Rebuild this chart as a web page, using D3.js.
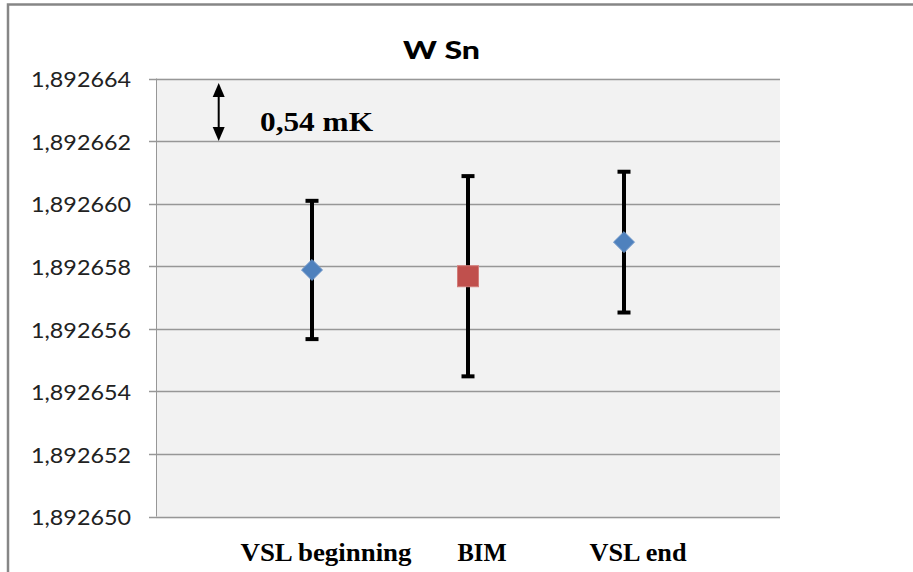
<!DOCTYPE html>
<html>
<head>
<meta charset="utf-8">
<script src="https://cdn.jsdelivr.net/npm/d3@7"></script>
<style>
  html, body { margin: 0; padding: 0; background: #fff; }
  svg { display: block; }
</style>
</head>
<body>
<svg id="chart" width="913" height="572"></svg>
<script>
// ---- data ----
const title = "W Sn";
const categories = ["VSL beginning", "BIM", "VSL end"];
const xPositions = [1, 2, 3];
const means = [1.89265788, 1.89265768, 1.89265877];
const errors = [0.00000221, 0.00000320, 0.00000225];
const seriesOf = ["VSL", "BIM", "VSL"];
const yTicks = [1.892650, 1.892652, 1.892654, 1.892656, 1.892658, 1.892660, 1.892662, 1.892664];
const annotationText = "0,54 mK";

// ---- layout ----
const svg = d3.select("#chart");
const plot = { left: 156, right: 780, top: 78.5, bottom: 516.5 };

const x = d3.scaleLinear().domain([0, 4]).range([plot.left, plot.right]);
const y = d3.scaleLinear().domain([1.892650, 1.892664]).range([plot.bottom, plot.top]);

const locale = d3.formatLocale({ decimal: ",", thousands: " ", grouping: [3], currency: ["", ""] });
const fmt = locale.format(".6f");

// chart border
svg.append("rect")
  .attr("x", 8).attr("y", 4.5).attr("width", 1000).attr("height", 1000)
  .attr("fill", "#fff").attr("stroke", "#868686").attr("stroke-width", 2.5);

// plot background
svg.append("rect")
  .attr("x", plot.left).attr("y", plot.top)
  .attr("width", plot.right - plot.left).attr("height", plot.bottom - plot.top + 2)
  .attr("fill", "#f2f2f2");

// gridlines
svg.append("g").selectAll("line").data(yTicks).join("line")
  .attr("x1", plot.left - 7).attr("x2", plot.right)
  .attr("y1", d => Math.round(y(d)) + 0.5).attr("y2", d => Math.round(y(d)) + 0.5)
  .attr("stroke", "#979797").attr("stroke-width", 1.3);

// y axis line
svg.append("line")
  .attr("x1", plot.left + 0.5).attr("x2", plot.left + 0.5)
  .attr("y1", plot.top).attr("y2", plot.bottom)
  .attr("stroke", "#979797").attr("stroke-width", 1);

// y tick labels
svg.append("g").selectAll("text").data(yTicks).join("text")
  .attr("x", 131).attr("y", d => y(d) + 8.8)
  .attr("text-anchor", "end")
  .attr("font-family", "Lato, 'Open Sans', sans-serif")
  .attr("font-size", 21)
  .attr("fill", "#222")
  .attr("textLength", 100).attr("lengthAdjust", "spacingAndGlyphs")
  .text(d => fmt(d));

// title
svg.append("text")
  .attr("x", 441.5).attr("y", 59.3)
  .attr("text-anchor", "middle")
  .attr("font-family", "Lato, 'Open Sans', sans-serif")
  .attr("font-weight", 900).attr("font-size", 25)
  .attr("fill", "#000")
  .attr("textLength", 77).attr("lengthAdjust", "spacingAndGlyphs")
  .text(title);

// x labels
const labelWidths = [171, 49, 97];
svg.append("g").selectAll("text").data(categories).join("text")
  .attr("x", (d, i) => x(xPositions[i]) + 14)
  .attr("y", 561)
  .attr("text-anchor", "middle")
  .attr("font-family", "'Liberation Serif', 'Times New Roman', serif")
  .attr("font-weight", "bold").attr("font-size", 25)
  .attr("fill", "#000")
  .attr("textLength", (d, i) => labelWidths[i]).attr("lengthAdjust", "spacingAndGlyphs")
  .text(d => d);

// error bars
const eb = svg.append("g");
means.forEach((m, i) => {
  const cx = x(xPositions[i]);
  const yTop = y(m + errors[i]), yBot = y(m - errors[i]);
  eb.append("line").attr("x1", cx).attr("x2", cx).attr("y1", yTop).attr("y2", yBot)
    .attr("stroke", "#000").attr("stroke-width", 4);
  [yTop, yBot].forEach(yy => {
    eb.append("line").attr("x1", cx - 6.5).attr("x2", cx + 6.5).attr("y1", yy).attr("y2", yy)
      .attr("stroke", "#000").attr("stroke-width", 4);
  });
});

// markers
const mk = svg.append("g");
means.forEach((m, i) => {
  const cx = x(xPositions[i]), cy = y(m);
  if (seriesOf[i] === "VSL") {
    mk.append("path")
      .attr("d", d3.symbol().type(d3.symbolDiamond2).size(280)())
      .attr("transform", `translate(${cx},${cy})`)
      .attr("fill", "#4f81bd").attr("stroke", "#6d96c9").attr("stroke-width", 1);
  } else {
    mk.append("rect")
      .attr("x", cx - 10.5).attr("y", cy - 10.5).attr("width", 21).attr("height", 21)
      .attr("fill", "#c0504d").attr("stroke", "#d27d7a").attr("stroke-width", 1);
  }
});

// annotation arrow
const ax = 218.7, ay1 = 83, ay2 = 141;
svg.append("line").attr("x1", ax).attr("x2", ax).attr("y1", ay1 + 12).attr("y2", ay2 - 12)
  .attr("stroke", "#000").attr("stroke-width", 2);
svg.append("path")
  .attr("d", `M${ax},${ay1} L${ax - 6},${ay1 + 14} L${ax + 6},${ay1 + 14} Z`)
  .attr("fill", "#000");
svg.append("path")
  .attr("d", `M${ax},${ay2} L${ax - 6},${ay2 - 14} L${ax + 6},${ay2 - 14} Z`)
  .attr("fill", "#000");

svg.append("text")
  .attr("x", 260).attr("y", 130.7)
  .attr("font-family", "'Liberation Serif', 'Times New Roman', serif")
  .attr("font-weight", "bold").attr("font-size", 27)
  .attr("fill", "#000")
  .attr("textLength", 113).attr("lengthAdjust", "spacingAndGlyphs")
  .text(annotationText);
</script>
</body>
</html>
